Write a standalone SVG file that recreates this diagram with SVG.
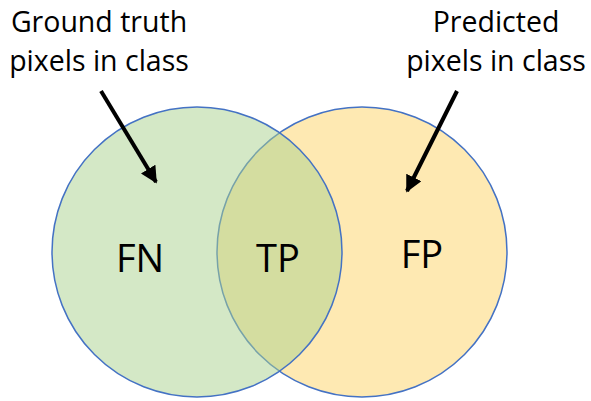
<svg xmlns="http://www.w3.org/2000/svg" width="591" height="401" viewBox="0 0 591 401">
<style>
.lbl{font-family:"Open Sans","Noto Sans","Liberation Sans",sans-serif;fill:#000;}
.big{font-size:38px;text-anchor:middle;}
.cap{font-size:28.5px;text-anchor:middle;}
.conn{stroke:#000;stroke-width:4;fill:none;}
</style>
<defs>
<marker id="ah" viewBox="0 0 10 10" refX="9" refY="5" markerWidth="4.2" markerHeight="4.2" orient="auto" markerUnits="strokeWidth">
<path d="M0,0 L10,5 L0,10 z" fill="#000"/>
</marker>
</defs>
<rect width="591" height="401" fill="#fff"/>
<g id="predicted">
<circle cx="362" cy="252" r="145" fill="#fee9b2" stroke="#4472c4" stroke-width="1.5"/>
</g>
<g id="ground-truth">
<circle cx="197" cy="252" r="145" fill="#a9d18e" fill-opacity="0.5" stroke="#4472c4" stroke-width="1.5"/>
</g>
<g id="fn"><text class="lbl big" x="140" y="272">FN</text></g>
<g id="tp"><text class="lbl big" x="278" y="272">TP</text></g>
<g id="fp"><text class="lbl big" x="422" y="268">FP</text></g>
<g id="label-gt">
<text class="lbl cap" x="99" y="32">Ground truth</text>
<text class="lbl cap" x="99" y="71">pixels in class</text>
</g>
<g id="label-pred">
<text class="lbl cap" x="496" y="32">Predicted</text>
<text class="lbl cap" x="496" y="71">pixels in class</text>
</g>
<g id="connectors">
<line class="conn" x1="101" y1="91" x2="156" y2="182" marker-end="url(#ah)"/>
<line class="conn" x1="457" y1="91" x2="407" y2="191" marker-end="url(#ah)"/>
</g>
</svg>
